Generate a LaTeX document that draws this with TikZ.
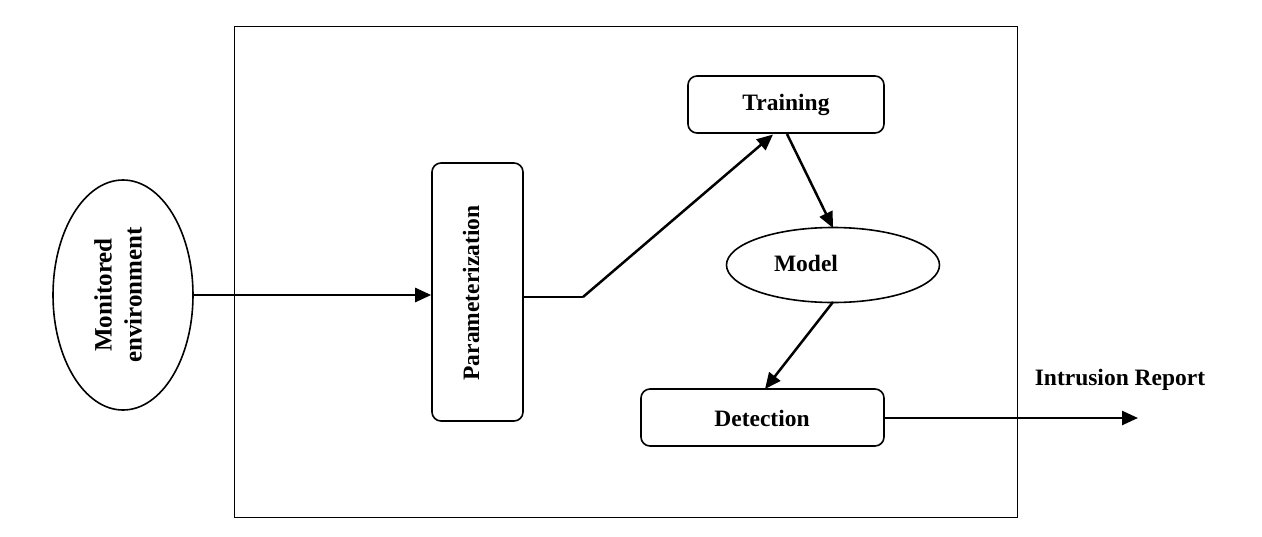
\documentclass[tikz,border=0pt]{standalone}
\usepackage{fontspec}
\setmainfont{Liberation Serif}
\usetikzlibrary{shapes.geometric,arrows.meta}
\begin{document}
\begin{tikzpicture}[x=1pt,y=-1pt,
  lbl/.style={font=\fontsize{23.5}{26}\selectfont\bfseries},
  rbox/.style={draw,line width=1.6pt,rounded corners=9pt,inner sep=0pt},
  oval/.style={draw,ellipse,line width=1.6pt,inner sep=0pt},
  conn/.style={line width=2.5pt,-{Triangle[length=16pt,width=14pt]}}]
\useasboundingbox (0,0) rectangle (1262,536);
\draw[line width=1pt] (234,26) rectangle (1017,517);
\node[oval,minimum width=140pt,minimum height=230pt] (env) at (123,295) {};
\node[font=\fontsize{25}{30}\selectfont\bfseries,rotate=90,align=center] at (118,295) {Monitored\\environment};
\node[rbox,minimum width=91pt,minimum height=258pt] (par) at (477.5,292) {};
\node[lbl,rotate=90] at (471,293) {Parameterization};
\node[rbox,minimum width=196pt,minimum height=57pt] (tr) at (786,104.5) {};
\node[lbl] at (786,105) {Training};
\node[oval,minimum width=213pt,minimum height=75pt] (mod) at (833,265) {};
\node[lbl] at (806,263) {Model};
\node[rbox,minimum width=243pt,minimum height=57pt] (det) at (762.5,417.5) {};
\node[lbl] at (762,418) {Detection};
\node[lbl] (ir) at (1120,380) {Intrusion Report};
\coordinate (bend) at (583,297);
\coordinate (irend) at (1138,418);
\draw[conn] (env.east) -- (par.west |- env.east);
\draw[conn,-] (par.east |- bend) -- (bend);
\draw[conn] (bend) -- (773,134.5);
\draw[conn] (787,134) -- (833,228);
\draw[conn] (833,302) -- (765,389);
\draw[conn] (det.east |- irend) -- (irend);
\end{tikzpicture}
\end{document}
